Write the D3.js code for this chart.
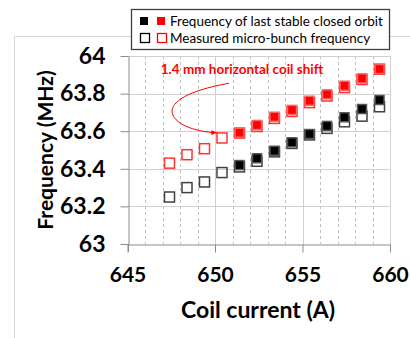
<!DOCTYPE html>
<html>
<head>
<meta charset="utf-8">
<script src="https://cdn.jsdelivr.net/npm/d3@7"></script>
<style>
  body { margin: 0; background: #fff; }
  svg { display: block; font-family: Lato, "Open Sans", sans-serif; }
</style>
</head>
<body>
<svg id="chart" width="410" height="338"></svg>
<script>
// coil current (A) for each measurement
var current = [647.4, 648.4, 649.4, 650.4, 651.4, 652.4, 653.4, 654.4, 655.4, 656.4, 657.4, 658.4, 659.4];
// closed orbit only computed from 651.4 A upward
var orbitCurrent = current.slice(4);

var measuredBlack = [63.25, 63.30, 63.33, 63.38, 63.41, 63.44, 63.49, 63.535, 63.58, 63.615, 63.65, 63.68, 63.73];
var measuredRed = [63.43, 63.475, 63.507, 63.564, 63.59, 63.625, 63.668, 63.705, 63.752, 63.787, 63.832, 63.875, 63.93];
var orbitBlack = [63.42, 63.456, 63.496, 63.541, 63.585, 63.628, 63.674, 63.718, 63.766];
var orbitRed = [63.592, 63.633, 63.677, 63.713, 63.762, 63.796, 63.842, 63.881, 63.931];

var xTicks = [645, 650, 655, 660];
var xMinor = d3.range(646, 660);
var yTicks = [63, 63.2, 63.4, 63.6, 63.8, 64];
var yTickLabels = ["63", "63.2", "63.4", "63.6", "63.8", "64"];

var legendRows = ["Frequency of last stable closed orbit", "Measured micro-bunch frequency"];
var noteText = "1.4 mm horizontal coil shift";

var svg = d3.select("#chart");

var xScale = d3.scaleLinear().domain([645, 660]).range([127.5, 390]);
var yScale = d3.scaleLinear().domain([63, 64]).range([244, 56]);

// outer chart border (light gray, runs off the picture)
svg.append("path")
	.attr("d", "M14.5,338 V36.5 H410")
	.attr("fill", "none")
	.attr("stroke", "#d9d9d9")
	.attr("stroke-width", 1);

var grid = svg.append("g");

// minor dashed verticals
grid.selectAll("line.minor")
	.data(xMinor.filter(function(d) { return d % 5 != 0; }))
	.enter()
	.append("line")
	.attr("class", "minor")
	.attr("x1", function(d) { return Math.round(xScale(d)) + 0.5; })
	.attr("x2", function(d) { return Math.round(xScale(d)) + 0.5; })
	.attr("y1", yScale(64))
	.attr("y2", yScale(63))
	.attr("stroke", "#bfbfbf")
	.attr("stroke-dasharray", "3,3");

// major verticals
grid.selectAll("line.majx")
	.data(xTicks.slice(1))
	.enter()
	.append("line")
	.attr("class", "majx")
	.attr("x1", function(d) { return Math.round(xScale(d)) + 0.5; })
	.attr("x2", function(d) { return Math.round(xScale(d)) + 0.5; })
	.attr("y1", yScale(64))
	.attr("y2", yScale(63))
	.attr("stroke", "#d0d0d0");

// horizontal gridlines
grid.selectAll("line.majy")
	.data(yTicks.slice(1))
	.enter()
	.append("line")
	.attr("class", "majy")
	.attr("x1", xScale(645))
	.attr("x2", xScale(660))
	.attr("y1", function(d) { return Math.round(yScale(d)) + 0.5; })
	.attr("y2", function(d) { return Math.round(yScale(d)) + 0.5; })
	.attr("stroke", "#d0d0d0");

// axes
var xAxis = d3.axisBottom(xScale)
	.tickValues(xTicks)
	.tickSizeInner(8)
	.tickSizeOuter(0)
	.tickPadding(15)
	.tickFormat(d3.format("d"));

var yAxis = d3.axisLeft(yScale)
	.tickValues(yTicks)
	.tickSizeInner(8)
	.tickSizeOuter(0)
	.tickPadding(15)
	.tickFormat(function(d, i) { return yTickLabels[i]; });

var gx = svg.append("g")
	.attr("transform", "translate(0," + (Math.round(yScale(63)) + 0.5) + ")")
	.call(xAxis);
gx.select(".domain").attr("stroke", "#8c8c8c");
gx.selectAll(".tick line").attr("stroke", "#8c8c8c");
gx.selectAll("text")
	.attr("font-family", "Lato, sans-serif")
	.attr("font-weight", "bold")
	.attr("font-size", 21)
	.attr("fill", "#000");

var gy = svg.append("g")
	.attr("transform", "translate(" + (Math.round(xScale(645)) + 0.5) + ",0)")
	.call(yAxis);
gy.select(".domain").attr("stroke", "#8c8c8c");
gy.selectAll(".tick line").attr("stroke", "#8c8c8c");
gy.selectAll("text")
	.attr("font-family", "Lato, sans-serif")
	.attr("font-weight", "bold")
	.attr("font-size", 23)
	.attr("fill", "#000");

// axis line extends a bit below the x axis on the left
svg.append("line")
	.attr("x1", Math.round(xScale(645)) + 0.5)
	.attr("x2", Math.round(xScale(645)) + 0.5)
	.attr("y1", yScale(63))
	.attr("y2", yScale(63) + 8)
	.attr("stroke", "#8c8c8c");

// axis titles
svg.append("text")
	.attr("x", 258)
	.attr("y", 318)
	.attr("text-anchor", "middle")
	.attr("font-weight", "bold")
	.attr("font-size", 23)
	.text("Coil current (A)");

svg.append("text")
	.attr("transform", "translate(53,150) rotate(-90)")
	.attr("text-anchor", "middle")
	.attr("font-weight", "bold")
	.attr("font-size", 21)
	.text("Frequency (MHz)");

// markers
var openSize = 10, fillSize = 9;

function openSquares(xs, ys, color) {
	svg.append("g").selectAll("rect")
		.data(ys)
		.enter()
		.append("rect")
		.attr("x", function(d, i) { return xScale(xs[i]) - openSize / 2; })
		.attr("y", function(d) { return yScale(d) - openSize / 2; })
		.attr("width", openSize)
		.attr("height", openSize)
		.attr("fill", "none")
		.attr("stroke", color)
		.attr("stroke-width", 1.5);
}

function filledSquares(xs, ys, color, edge) {
	svg.append("g").selectAll("rect")
		.data(ys)
		.enter()
		.append("rect")
		.attr("x", function(d, i) { return xScale(xs[i]) - fillSize / 2; })
		.attr("y", function(d) { return yScale(d) - fillSize / 2; })
		.attr("width", fillSize)
		.attr("height", fillSize)
		.attr("fill", color)
		.attr("stroke", edge)
		.attr("stroke-width", 1.5);
}

openSquares(current, measuredBlack, "#404040");
openSquares(current, measuredRed, "#ff3333");
filledSquares(orbitCurrent, orbitBlack, "#000", "#555");
filledSquares(orbitCurrent, orbitRed, "#ff0000", "#ff6060");

// annotation
svg.append("text")
	.attr("x", xScale(646.9))
	.attr("y", yScale(63.905))
	.attr("fill", "#ff0000")
	.attr("font-weight", "bold")
	.attr("font-size", 13.5)
	.text(noteText);

svg.append("defs").append("marker")
	.attr("id", "arrow")
	.attr("viewBox", "0 0 10 10")
	.attr("refX", 9)
	.attr("refY", 5)
	.attr("markerWidth", 6)
	.attr("markerHeight", 6)
	.attr("orient", "auto")
	.append("path")
	.attr("d", "M0,1 L10,5 L0,9 Z")
	.attr("fill", "#ff0000");

var arrowPath = d3.path();
arrowPath.moveTo(xScale(650.8), yScale(63.855));
arrowPath.bezierCurveTo(xScale(645.7), yScale(63.77), xScale(647.5), yScale(63.6), xScale(650.1), yScale(63.592));
svg.append("path")
	.attr("d", arrowPath.toString())
	.attr("fill", "none")
	.attr("stroke", "#ff0000")
	.attr("stroke-width", 1)
	.attr("marker-end", "url(#arrow)");

// legend
var legend = svg.append("g");
legend.append("rect")
	.attr("x", 131.5)
	.attr("y", 9.5)
	.attr("width", 258)
	.attr("height", 40)
	.attr("fill", "#fff")
	.attr("stroke", "#404040")
	.attr("stroke-width", 1.3);

var rowY = [21, 38];
legend.selectAll("text")
	.data(legendRows)
	.enter()
	.append("text")
	.attr("x", 170)
	.attr("y", function(d, i) { return rowY[i]; })
	.attr("dy", "0.35em")
	.attr("font-size", 13.5)
	.text(function(d) { return d; });

legend.append("rect").attr("x", 140).attr("y", rowY[0] - 4).attr("width", 8).attr("height", 8).attr("fill", "#000");
legend.append("rect").attr("x", 157).attr("y", rowY[0] - 4).attr("width", 8).attr("height", 8).attr("fill", "#ff0000");
legend.append("rect").attr("x", 140.5).attr("y", rowY[1] - 4.5).attr("width", 9).attr("height", 9).attr("fill", "none").attr("stroke", "#000").attr("stroke-width", 1.3);
legend.append("rect").attr("x", 157.5).attr("y", rowY[1] - 4.5).attr("width", 9).attr("height", 9).attr("fill", "none").attr("stroke", "#ff0000").attr("stroke-width", 1.3);
</script>
</body>
</html>
